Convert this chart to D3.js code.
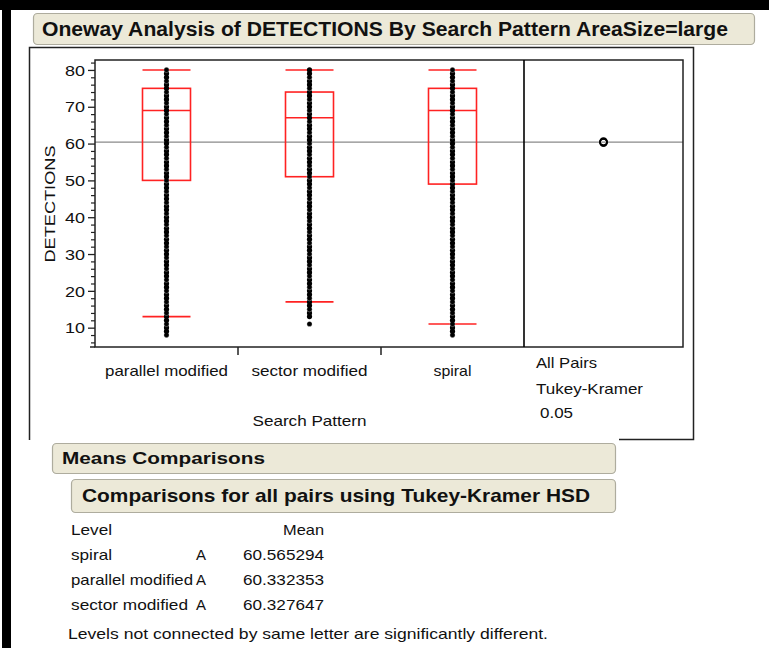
<!DOCTYPE html>
<html>
<head>
<meta charset="utf-8">
<script src="https://cdn.jsdelivr.net/npm/d3@7"></script>
<style>
  body { margin: 0; background: #fff; }
  svg text { font-family: "Liberation Sans", Arial, sans-serif; fill: #111; }
</style>
</head>
<body>
<div id="container"></div>
<script>
// values
const categories = ["parallel modified", "sector modified", "spiral"];
const whiskerLow = [13, 17, 11];
const q1 = [50, 51, 49];
const medians = [69, 67, 69];
const q3 = [75, 74, 75];
const whiskerHigh = [80, 80, 80];
const groupMeans = [60.332353, 60.327647, 60.565294];
const circleRadii = [0.95, 0.95, 0.95];
const grandMean = 60.408;
const yTicks = [10, 20, 30, 40, 50, 60, 70, 80];
const yMinorTicks = [6, 8, 12, 14, 16, 18, 22, 24, 26, 28, 32, 34, 36, 38, 42, 44, 46, 48, 52, 54, 56, 58, 62, 64, 66, 68, 72, 74, 76, 78, 82];

const parallelPoints = [8, 9, 10, 11, 12, 13, 14, 15, 16, 17, 18, 19, 20, 21, 22, 23, 24, 25, 26, 27, 28, 29, 30, 31, 32, 33, 34, 35, 36, 37, 38, 39, 40, 41, 42, 43, 44, 45, 46, 47, 48, 49, 50, 51, 52, 53, 54, 55, 56, 57, 58, 59, 60, 61, 62, 63, 64, 65, 66, 67, 68, 69, 70, 71, 72, 73, 74, 75, 76, 77, 78, 79, 80];
const sectorPoints = [11, 13, 14, 15, 16, 17, 18, 19, 20, 21, 22, 23, 24, 25, 26, 27, 28, 29, 30, 31, 32, 33, 34, 35, 36, 37, 38, 39, 40, 41, 42, 43, 44, 45, 46, 47, 48, 49, 50, 51, 52, 53, 54, 55, 56, 57, 58, 59, 60, 61, 62, 63, 64, 65, 66, 67, 68, 69, 70, 71, 72, 73, 74, 75, 76, 77, 78, 79, 80];
const spiralPoints = [8, 9, 10, 11, 12, 13, 14, 15, 16, 17, 18, 19, 20, 21, 22, 23, 24, 25, 26, 27, 28, 29, 30, 31, 32, 33, 34, 35, 36, 37, 38, 39, 40, 41, 42, 43, 44, 45, 46, 47, 48, 49, 50, 51, 52, 53, 54, 55, 56, 57, 58, 59, 60, 61, 62, 63, 64, 65, 66, 67, 68, 69, 70, 71, 72, 73, 74, 75, 76, 77, 78, 79, 80];

const tableLevels = ["spiral", "parallel modified", "sector modified"];
const tableLetters = ["A", "A", "A"];
const tableMeans = ["60.565294", "60.332353", "60.327647"];

const svg = d3.select("#container").
append("svg").
attr("width", 769).
attr("height", 648);

// text helper: font size from glyph height, width stretched to match
function label(g, txt, x, y, size, w, opts = {}) {
  let t = g.append("text").
  attr("x", x).
  attr("y", y).
  attr("font-size", size).
  attr("text-anchor", opts.anchor || "start").
  attr("font-weight", opts.bold ? "bold" : "normal").
  text(txt);
  if (w) t.attr("textLength", w).attr("lengthAdjust", "spacingAndGlyphs");
  if (opts.transform) t.attr("transform", opts.transform);
  return t;
}

function beigeBox(x, y, w, h) {
  svg.append("rect").
  attr("x", x + 0.5).attr("y", y + 0.5).
  attr("width", w).attr("height", h).
  attr("rx", 4).
  attr("fill", "#ece9d8").
  attr("stroke", "#aeac9e").
  attr("stroke-width", 1.2);
}

// black window frame
svg.append("rect").attr("x", 0).attr("y", 0).attr("width", 769).attr("height", 10).attr("fill", "#000");
svg.append("rect").attr("x", 2).attr("y", 0).attr("width", 9).attr("height", 648).attr("fill", "#000");

// title
beigeBox(33, 13, 721, 31);
label(svg, "Oneway Analysis of DETECTIONS By Search Pattern AreaSize=large", 42, 36, 19.5, 686, { bold: true });

// outer report outline
svg.append("path").
attr("d", "M29.5,440 V47.5 H693.5 V439.5 H619").
attr("fill", "none").
attr("stroke", "#222").
attr("stroke-width", 1.5);

// scales
const y = d3.scaleLinear().domain([4.75, 82.7]).range([347, 60]);
const x = d3.scaleBand().domain(categories).range([95, 524]);
const cmpLeft = 524, cmpRight = 683;

const plot = svg.append("g");

// grand mean line
plot.append("line").
attr("x1", 95).attr("x2", cmpRight).
attr("y1", y(grandMean)).attr("y2", y(grandMean)).
attr("stroke", "#8a8a8a").
attr("stroke-width", 1.2);

// boxes
const boxHalf = 24;
categories.forEach((c, i) => {
  let cx = x(c) + x.bandwidth() / 2;
  let g = plot.append("g").attr("stroke", "#ff2222").attr("stroke-width", 1.6).attr("fill", "none");
  g.append("rect").
  attr("x", cx - boxHalf).attr("y", y(q3[i])).
  attr("width", boxHalf * 2).attr("height", y(q1[i]) - y(q3[i]));
  [medians[i], whiskerLow[i], whiskerHigh[i]].forEach(v => {
    g.append("line").
    attr("x1", cx - boxHalf).attr("x2", cx + boxHalf).
    attr("y1", y(v)).attr("y2", y(v));
  });
  g.append("line").
  attr("x1", cx).attr("x2", cx).
  attr("y1", y(whiskerLow[i])).attr("y2", y(whiskerHigh[i]));
});

// points
const pointSets = [parallelPoints, sectorPoints, spiralPoints];
pointSets.forEach((pts, i) => {
  let cx = x(categories[i]) + x.bandwidth() / 2;
  plot.append("g").
  selectAll("circle").
  data(pts).
  enter().
  append("circle").
  attr("cx", cx).
  attr("cy", d => y(d)).
  attr("r", 2.6).
  attr("fill", "#000").
  attr("stroke", (d, j) => j % 3 === 0 ? "#fff" : "none").
  attr("stroke-width", 0.3);
});

// comparison circles
const cmpX = (cmpLeft + cmpRight) / 2;
plot.selectAll(".cmp").
data(groupMeans).
enter().
append("circle").
attr("class", "cmp").
attr("cx", cmpX).
attr("cy", d => y(d)).
attr("r", (d, i) => y(0) - y(circleRadii[i])).
attr("fill", "none").
attr("stroke", "#000").
attr("stroke-width", 1.6);

// frames
plot.append("rect").
attr("x", 95).attr("y", 60).
attr("width", cmpRight - 95).attr("height", 287).
attr("fill", "none").
attr("stroke", "#222").
attr("stroke-width", 1.5);
plot.append("line").
attr("x1", cmpLeft).attr("x2", cmpLeft).
attr("y1", 60).attr("y2", 347).
attr("stroke", "#000").
attr("stroke-width", 1.6);
plot.append("line").
attr("x1", 90).attr("x2", 95).
attr("y1", 347).attr("y2", 347).
attr("stroke", "#222").
attr("stroke-width", 1.5);

// y axis
let yAxis = plot.append("g").
attr("transform", "translate(95,0)").
call(d3.axisLeft(y).tickValues(yTicks).tickSize(7).tickPadding(3));
yAxis.select(".domain").remove();
yAxis.selectAll("line").attr("stroke", "#222").attr("stroke-width", 1.3);
yAxis.selectAll("text").
attr("font-size", 14.5).
attr("font-family", "Liberation Sans, Arial, sans-serif").
attr("fill", "#111").
attr("textLength", 20).
attr("lengthAdjust", "spacingAndGlyphs").
attr("dy", "0.36em");

let yMinor = plot.append("g").
attr("transform", "translate(95,0)").
call(d3.axisLeft(y).tickValues(yMinorTicks).tickSize(4).tickFormat(""));
yMinor.select(".domain").remove();
yMinor.selectAll("line").attr("stroke", "#222").attr("stroke-width", 1.2);

// x axis: boundary ticks between levels
categories.slice(0, -1).forEach(c => {
  let bx = x(c) + x.bandwidth();
  plot.append("line").
  attr("x1", bx).attr("x2", bx).
  attr("y1", 347).attr("y2", 355).
  attr("stroke", "#222").
  attr("stroke-width", 1.5);
});

const catWidths = [123, 116, 38];
categories.forEach((c, i) => {
  label(plot, c, x(c) + x.bandwidth() / 2, 376, 14.5, catWidths[i], { anchor: "middle" });
});
label(plot, "Search Pattern", x(categories[1]) + x.bandwidth() / 2, 426, 14.5, 114, { anchor: "middle" });
label(plot, "DETECTIONS", 0, 0, 14.5, 117, { anchor: "middle", transform: "translate(55,204) rotate(-90)" });

label(plot, "All Pairs", 536, 368, 14.5, 61);
label(plot, "Tukey-Kramer", 536, 394, 14.5, 107);
label(plot, "0.05", 540, 418, 14.5, 33);

// means comparisons
beigeBox(52, 443, 563, 30);
label(svg, "Means Comparisons", 62, 464, 17, 203, { bold: true });
beigeBox(71, 479, 544, 33);
label(svg, "Comparisons for all pairs using Tukey-Kramer HSD", 82, 502, 18.5, 508, { bold: true });

const levelWidths = [41, 122, 117];
label(svg, "Level", 71, 535, 14.5, 41);
label(svg, "Mean", 324, 535, 14.5, 41, { anchor: "end" });
tableLevels.forEach((lv, i) => {
  let ty = 560 + i * 25;
  label(svg, lv, 71, ty, 14.5, levelWidths[i]);
  label(svg, tableLetters[i], 201, ty, 14.5, 10, { anchor: "middle" });
  label(svg, tableMeans[i], 324, ty, 14.5, 81, { anchor: "end" });
});
label(svg, "Levels not connected by same letter are significantly different.", 68, 639, 14.5, 480);
</script>
</body>
</html>
